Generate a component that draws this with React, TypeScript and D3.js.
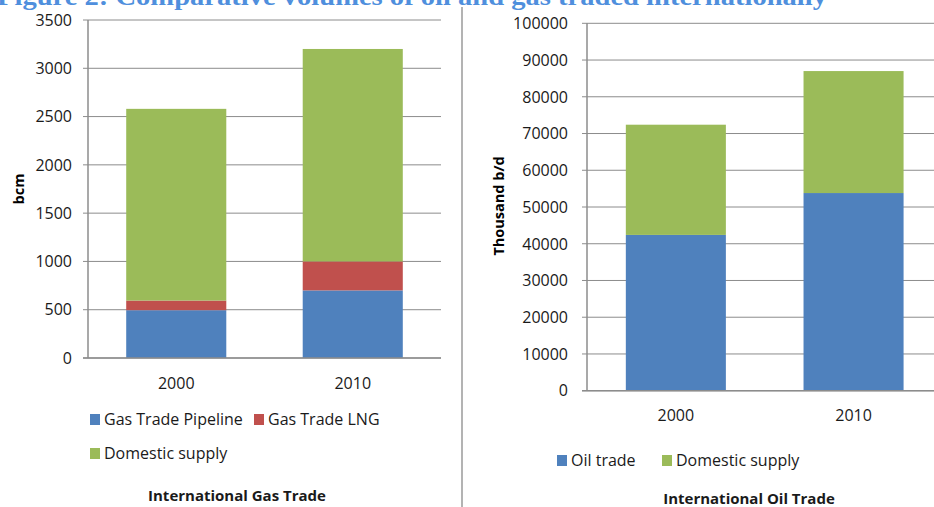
import React from "react";
import * as d3 from "d3";

const categories = ["2000", "2010"];
const gasPipeline = [495, 700];
const gasLNG = [100, 300];
const gasDomestic = [1985, 2200];
const oilTrade = [42400, 53800];
const oilDomestic = [30000, 33200];
const gasTicks = [0, 500, 1000, 1500, 2000, 2500, 3000, 3500];
const oilTicks = [0, 10000, 20000, 30000, 40000, 50000, 60000, 70000, 80000, 90000, 100000];

const BLUE = "#4F81BD";
const RED = "#C0504D";
const GREEN = "#9BBB59";
const GRID = "#8c8c8c";
const FONT = "'Open Sans', sans-serif";
const TXT = "#1a1a1a";

type Panel = {
  series: { key: string; values: number[]; color: string }[];
  ticks: number[];
  yDomain: [number, number];
  yRange: [number, number];
  xRange: [number, number];
  pad: number;
  gridEnd: number;
  labelX: number;
  axisTitle: string;
  axisTitleX: number;
  axisTitleY: number;
  catY: number;
};

function StackPanel({ p }: { p: Panel }) {
  const y = d3.scaleLinear().domain(p.yDomain).range(p.yRange);
  const x = d3
    .scaleBand<string>()
    .domain(categories)
    .range(p.xRange)
    .paddingInner(p.pad)
    .paddingOuter(p.pad / 2);
  const rows = categories.map((c, i) => {
    const o: Record<string, number | string> = { cat: c };
    p.series.forEach((s) => (o[s.key] = s.values[i]));
    return o;
  });
  const stack = d3.stack<any>().keys(p.series.map((s) => s.key));
  const layers = stack(rows as any);
  const x0 = p.xRange[0];
  return (
    <g>
      {p.ticks.map((t) => (
        <g key={t}>
          <line x1={x0 - 5} x2={p.gridEnd} y1={y(t)} y2={y(t)} stroke={GRID} strokeWidth={1} />
          <text
            x={p.labelX}
            y={y(t)}
            dy="0.36em"
            textAnchor="end"
            fontFamily={FONT}
            fontSize={16}
            fill={TXT}
          >
            {t}
          </text>
        </g>
      ))}
      {layers.map((layer, li) =>
        layer.map((d, i) => (
          <rect
            key={li + "-" + i}
            x={x(categories[i])}
            width={x.bandwidth()}
            y={y(d[1])}
            height={y(d[0]) - y(d[1])}
            fill={p.series[li].color}
          />
        ))
      )}
      <line x1={x0} x2={x0} y1={p.yRange[1]} y2={p.yRange[0]} stroke={GRID} strokeWidth={1.5} />
      <line x1={x0 - 5} x2={p.gridEnd} y1={p.yRange[0]} y2={p.yRange[0]} stroke={GRID} strokeWidth={1.5} />
      {categories.map((c) => (
        <text
          key={c}
          x={(x(c) as number) + x.bandwidth() / 2}
          y={p.catY}
          textAnchor="middle"
          fontFamily={FONT}
          fontSize={16}
          fill={TXT}
        >
          {c}
        </text>
      ))}
      <text
        transform={`translate(${p.axisTitleX},${p.axisTitleY}) rotate(-90)`}
        textAnchor="middle"
        fontFamily={FONT}
        fontWeight="bold"
        fontSize={14.5}
        fill="#000"
      >
        {p.axisTitle}
      </text>
    </g>
  );
}

function Legend({ items }: { items: { label: string; color: string; x: number; y: number }[] }) {
  return (
    <g>
      {items.map((it) => (
        <g key={it.label}>
          <rect x={it.x} y={it.y - 11} width={10} height={11} fill={it.color} />
          <text x={it.x + 14} y={it.y} fontFamily={FONT} fontSize={16} fill={TXT}>
            {it.label}
          </text>
        </g>
      ))}
    </g>
  );
}

export default function App() {
  const gasPanel: Panel = {
    series: [
      { key: "pipe", values: gasPipeline, color: BLUE },
      { key: "lng", values: gasLNG, color: RED },
      { key: "dom", values: gasDomestic, color: GREEN },
    ],
    ticks: gasTicks,
    yDomain: [0, 3500],
    yRange: [358, 20],
    xRange: [88, 441],
    pad: 0.433,
    gridEnd: 441,
    labelX: 72,
    axisTitle: "bcm",
    axisTitleX: 24,
    axisTitleY: 189,
    catY: 389,
  };
  const oilPanel: Panel = {
    series: [
      { key: "oil", values: oilTrade, color: BLUE },
      { key: "dom", values: oilDomestic, color: GREEN },
    ],
    ticks: oilTicks,
    yDomain: [0, 100000],
    yRange: [390.7, 23.3],
    xRange: [587, 942.4],
    pad: 0.437,
    gridEnd: 934,
    labelX: 568,
    axisTitle: "Thousand b/d",
    axisTitleX: 504,
    axisTitleY: 206,
    catY: 421,
  };
  return (
    <svg
      width={934}
      height={507}
      style={{ position: "absolute", left: 0, top: 0, background: "#fff" }}
    >
      <rect width={934} height={507} fill="#fff" />
      <text
        x={-3}
        y={5}
        fontFamily="'Liberation Serif', serif"
        fontWeight="bold"
        fontSize={25}
        fill="#4F8FDD"
        textLength={830}
        lengthAdjust="spacingAndGlyphs"
      >
        Figure 2: Comparative volumes of oil and gas traded internationally
      </text>
      <line x1={462} x2={462} y1={7} y2={507} stroke="#9a9a9a" strokeWidth={1.5} />
      <StackPanel p={gasPanel} />
      <StackPanel p={oilPanel} />
      <Legend
        items={[
          { label: "Gas Trade Pipeline", color: BLUE, x: 90, y: 425 },
          { label: "Gas Trade LNG", color: RED, x: 254, y: 425 },
          { label: "Domestic supply", color: GREEN, x: 90, y: 459 },
        ]}
      />
      <Legend
        items={[
          { label: "Oil trade", color: BLUE, x: 557, y: 466 },
          { label: "Domestic supply", color: GREEN, x: 662, y: 466 },
        ]}
      />
      <text x={237} y={501} textAnchor="middle" fontFamily={FONT} fontWeight="bold" fontSize={15} fill={TXT}>
        International Gas Trade
      </text>
      <text x={749} y={504} textAnchor="middle" fontFamily={FONT} fontWeight="bold" fontSize={15} fill={TXT}>
        International Oil Trade
      </text>
    </svg>
  );
}
